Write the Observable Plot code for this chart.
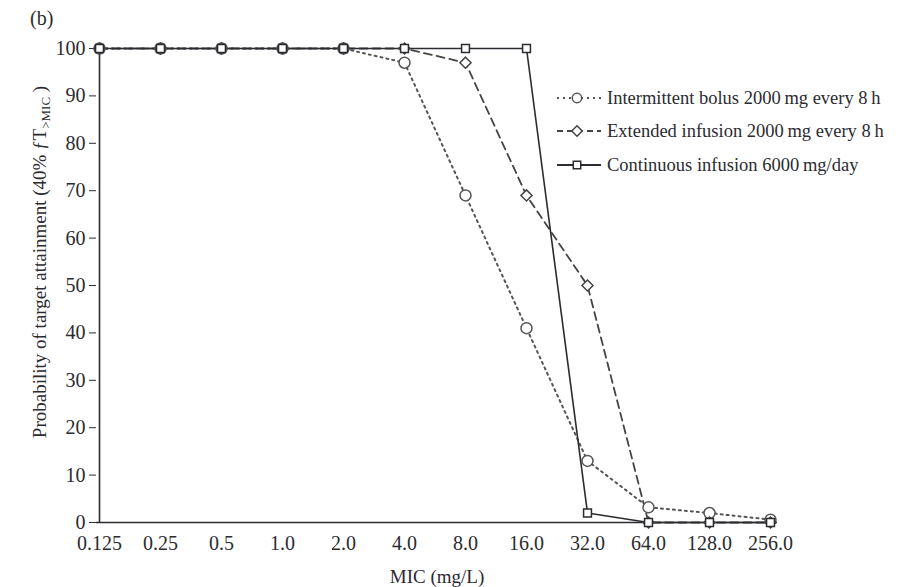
<!DOCTYPE html>
<html><head><meta charset="utf-8">
<script src="https://cdn.jsdelivr.net/npm/d3@7"></script>
<script src="https://cdn.jsdelivr.net/npm/@observablehq/plot@0.6"></script>
<style>
html,body{margin:0;padding:0;background:#fff;}
#chart{position:relative;width:921px;height:587px;}
svg{font-family:"Liberation Serif","DejaVu Serif",serif;}
</style></head>
<body><div id="chart"></div>
<script>
const micLabels = ["0.125","0.25","0.5","1.0","2.0","4.0","8.0","16.0","32.0","64.0","128.0","256.0"];
const bolus      = [100,100,100,100,100,97,69,41,13,3.2,2,0.6];
const extended   = [100,100,100,100,100,100,97,69,50,0,0,0];
const continuous = [100,100,100,100,100,100,100,100,2,0,0,0];
const seriesNames = ["Intermittent bolus 2000\u2009mg every 8\u2009h","Extended infusion 2000\u2009mg every 8\u2009h","Continuous infusion 6000\u2009mg/day"];
const yTicks = [0,10,20,30,40,50,60,70,80,90,100];

const toRows = (vals) => micLabels.map((m,i)=>({mic:m, p:vals[i]}));
const rB = toRows(bolus), rE = toRows(extended), rC = toRows(continuous);
const ink = "#2b2b30";

const plot = Plot.plot({
  width: 921, height: 587,
  marginLeft: 96, marginRight: 149, marginTop: 48, marginBottom: 65,
  style: {fontFamily: '"Liberation Serif", serif', fontSize: "20px", color: ink, background: "white"},
  x: {type: "point", domain: micLabels, padding: 0, label: null},
  y: {domain: [0,100], ticks: yTicks, label: null},
  marks: [
    Plot.ruleY([0], {stroke: ink, strokeWidth: 1.6, insetRight: -5}),
    Plot.ruleX([micLabels[0]], {y1: 0, y2: 100, stroke: ink, strokeWidth: 1.6}),
    Plot.axisY({ticks: yTicks, tickSize: 7, tickPadding: 4, tickFormat: d => String(d), fontSize: 20, stroke: ink}),
    Plot.axisX({tickSize: 0, tickPadding: 13, fontSize: 20}),
    Plot.line(rB, {x: "mic", y: "p", stroke: "#555", strokeWidth: 2, strokeDasharray: "2,4"}),
    Plot.line(rE, {x: "mic", y: "p", stroke: "#444", strokeWidth: 1.8, strokeDasharray: "8,5"}),
    Plot.line(rC, {x: "mic", y: "p", stroke: ink, strokeWidth: 1.6}),
    Plot.dot(rB, {x: "mic", y: "p", symbol: "circle", r: 5.5, fill: "white", stroke: "#555", strokeWidth: 1.5}),
    Plot.dot(rE, {x: "mic", y: "p", symbol: "diamond2", r: 5, fill: "white", stroke: "#444", strokeWidth: 1.5}),
    Plot.dot(rC, {x: "mic", y: "p", symbol: "square2", r: 5, fill: "white", stroke: ink, strokeWidth: 1.5})
  ]
});
document.getElementById("chart").appendChild(plot);

const svg = d3.select(plot);
// panel label
svg.append("text").attr("x", 30).attr("y", 25).attr("text-anchor", "start").attr("font-size", 20).attr("fill", ink).text("(b)");
// x title
svg.append("text").attr("x", 437).attr("y", 583).attr("text-anchor", "middle").attr("font-size", 19).attr("fill", ink).text("MIC (mg/L)");
// y title
const yt = svg.append("text").attr("transform", "translate(46,262) rotate(-90)").attr("text-anchor", "middle").attr("font-size", 19).attr("fill", ink);
yt.append("tspan").text("Probability of target attainment (40% \u0192T");
yt.append("tspan").attr("dy", 4).attr("font-size", 13).text(">MIC");
yt.append("tspan").attr("dy", -4).text(" )");

// legend
const legY = [98, 131, 165];
const legStyles = [
  {dash: "2,4", stroke: "#555", sym: d3.symbolCircle},
  {dash: "6,4", stroke: "#444", sym: d3.symbolDiamond2},
  {dash: null, stroke: ink, sym: d3.symbolSquare2}
];
seriesNames.forEach((name, i) => {
  const g = svg.append("g").attr("transform", `translate(0,${legY[i]})`);
  const ln = g.append("line").attr("x1", 557).attr("x2", 601).attr("stroke", legStyles[i].stroke).attr("stroke-width", 1.8);
  if (legStyles[i].dash) ln.attr("stroke-dasharray", legStyles[i].dash);
  g.append("path").attr("transform", "translate(577,0)").attr("d", d3.symbol(legStyles[i].sym, 70)()).attr("fill", "white").attr("stroke", legStyles[i].stroke).attr("stroke-width", 1.5);
  g.append("text").attr("x", 607).attr("y", 6).attr("text-anchor", "start").attr("font-size", 18.5).attr("fill", ink).text(name);
});
</script></body></html>
